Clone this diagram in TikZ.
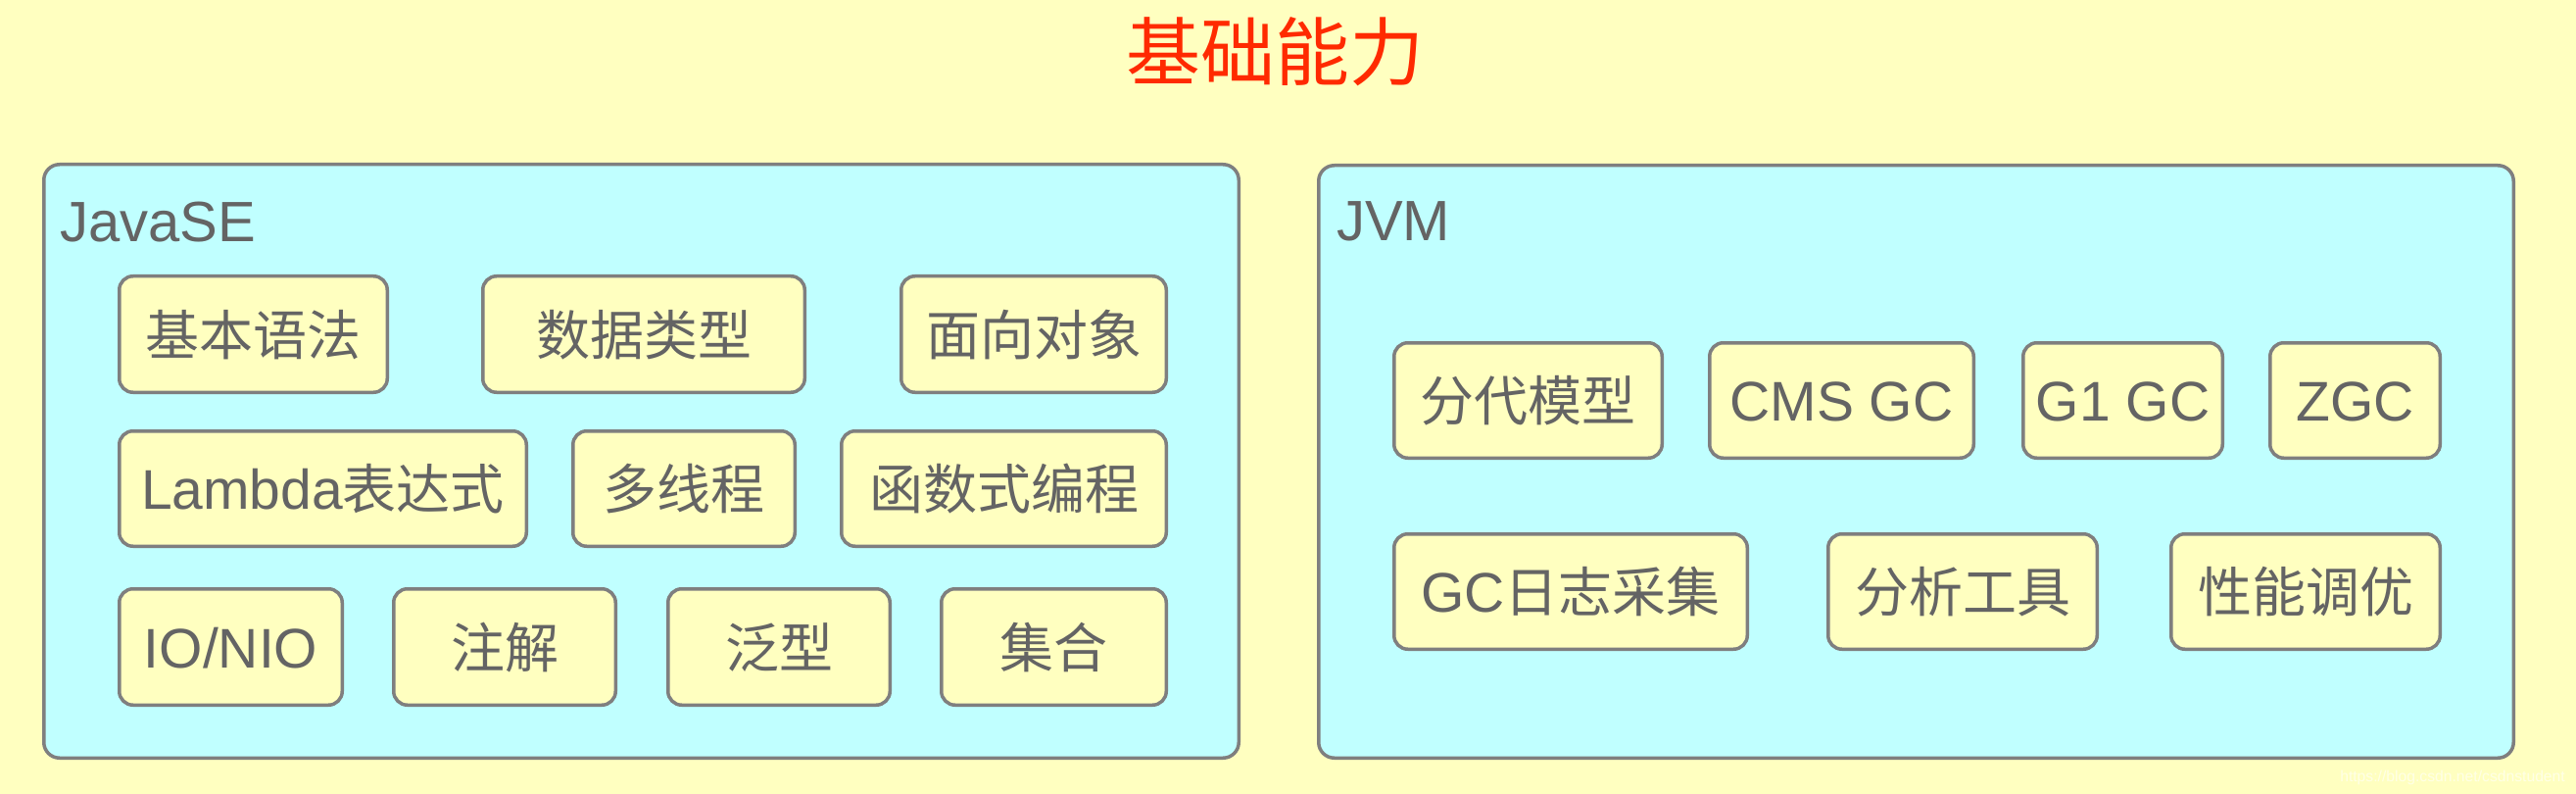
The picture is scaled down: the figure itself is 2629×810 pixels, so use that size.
\documentclass[tikz,border=0pt]{standalone}
\usepackage{fontspec}
\setmainfont{Liberation Sans}
\newfontfamily\cjkf{Noto Sans CJK SC}
\newcommand\zh[1]{{\cjkf\fontsize{55}{60}\selectfont #1}}
\definecolor{bgyellow}{HTML}{FFFFC0}
\definecolor{boxcyan}{HTML}{C0FFFF}
\definecolor{bordergray}{HTML}{7F7F7F}
\definecolor{textgray}{HTML}{646464}
\definecolor{titlered}{HTML}{FF2A00}
\tikzset{
  outerbox/.style={draw=bordergray, line width=3.5pt, fill=boxcyan, rounded corners=16pt, inner sep=0pt},
  itembox/.style={draw=bordergray, line width=3.5pt, fill=bgyellow, rounded corners=14pt,
    inner sep=0pt, text height=42pt, text depth=0pt, text=textgray,
    font=\fontsize{57}{62}\selectfont},
  grouplabel/.style={anchor=base west, inner sep=0pt, text=textgray, font=\fontsize{58}{64}\selectfont},
}
\begin{document}
\begin{tikzpicture}[x=1pt,y=-1pt]
\fill[bgyellow] (0,0) rectangle (2629,810);
\useasboundingbox (0,0) rectangle (2629,810);
% title
\node[anchor=base, inner sep=0pt, text=titlered] (title) at (1301,82) {\cjkf\fontsize{76}{80}\selectfont 基础能力};
% outer boxes
\node[outerbox, minimum width=1219.5pt, minimum height=605.5pt] (javase) at (654.5,470.5) {};
\node[outerbox, minimum width=1219.5pt, minimum height=604.5pt] (jvm) at (1955.5,471) {};
\node[grouplabel] (javaselabel) at (61,247) {JavaSE};
\node[grouplabel] (jvmlabel) at (1364,246) {JVM};
% JavaSE items
\node[itembox, minimum width=273.5pt, minimum height=118.5pt] (a1) at (258.5,341) {\zh{基本语法}};
\node[itembox, minimum width=328.5pt, minimum height=118.5pt] (a2) at (657,341) {\zh{数据类型}};
\node[itembox, minimum width=270.5pt, minimum height=118.5pt] (a3) at (1055,341) {\zh{面向对象}};
\node[itembox, minimum width=415.5pt, minimum height=117.5pt] (b1) at (329.5,498.5) {Lambda\zh{表达式}};
\node[itembox, minimum width=226.5pt, minimum height=117.5pt] (b2) at (698,498.5) {\zh{多线程}};
\node[itembox, minimum width=331.5pt, minimum height=117.5pt] (b3) at (1024.5,498.5) {\zh{函数式编程}};
\node[itembox, minimum width=227.5pt, minimum height=118.5pt] (c1) at (235.5,660) {IO/NIO};
\node[itembox, minimum width=226.5pt, minimum height=118.5pt] (c2) at (515,660) {\zh{注解}};
\node[itembox, minimum width=226.5pt, minimum height=118.5pt] (c3) at (795,660) {\zh{泛型}};
\node[itembox, minimum width=229.5pt, minimum height=118.5pt] (c4) at (1075.5,660) {\zh{集合}};
% JVM items
\node[itembox, minimum width=273.5pt, minimum height=117.5pt] (d1) at (1559.5,408.5) {\zh{分代模型}};
\node[itembox, minimum width=269.5pt, minimum height=117.5pt] (d2) at (1879.5,408.5) {CMS GC};
\node[itembox, minimum width=203.5pt, minimum height=117.5pt] (d3) at (2166.5,408.5) {G1 GC};
\node[itembox, minimum width=173.5pt, minimum height=117.5pt] (d4) at (2403.5,408.5) {ZGC};
\node[itembox, minimum width=360.5pt, minimum height=117.5pt] (e1) at (1603,603.5) {GC\zh{日志采集}};
\node[itembox, minimum width=274.5pt, minimum height=117.5pt] (e2) at (2003,603.5) {\zh{分析工具}};
\node[itembox, minimum width=274.5pt, minimum height=117.5pt] (e3) at (2353,603.5) {\zh{性能调优}};
% watermark
\node[anchor=base east, inner sep=0pt, text=white, text opacity=0.6, font=\fontsize{15.7}{18}\selectfont] (wm) at (2618,797) {https://blog.csdn.net/csdnstudent};
\end{tikzpicture}
\end{document}
